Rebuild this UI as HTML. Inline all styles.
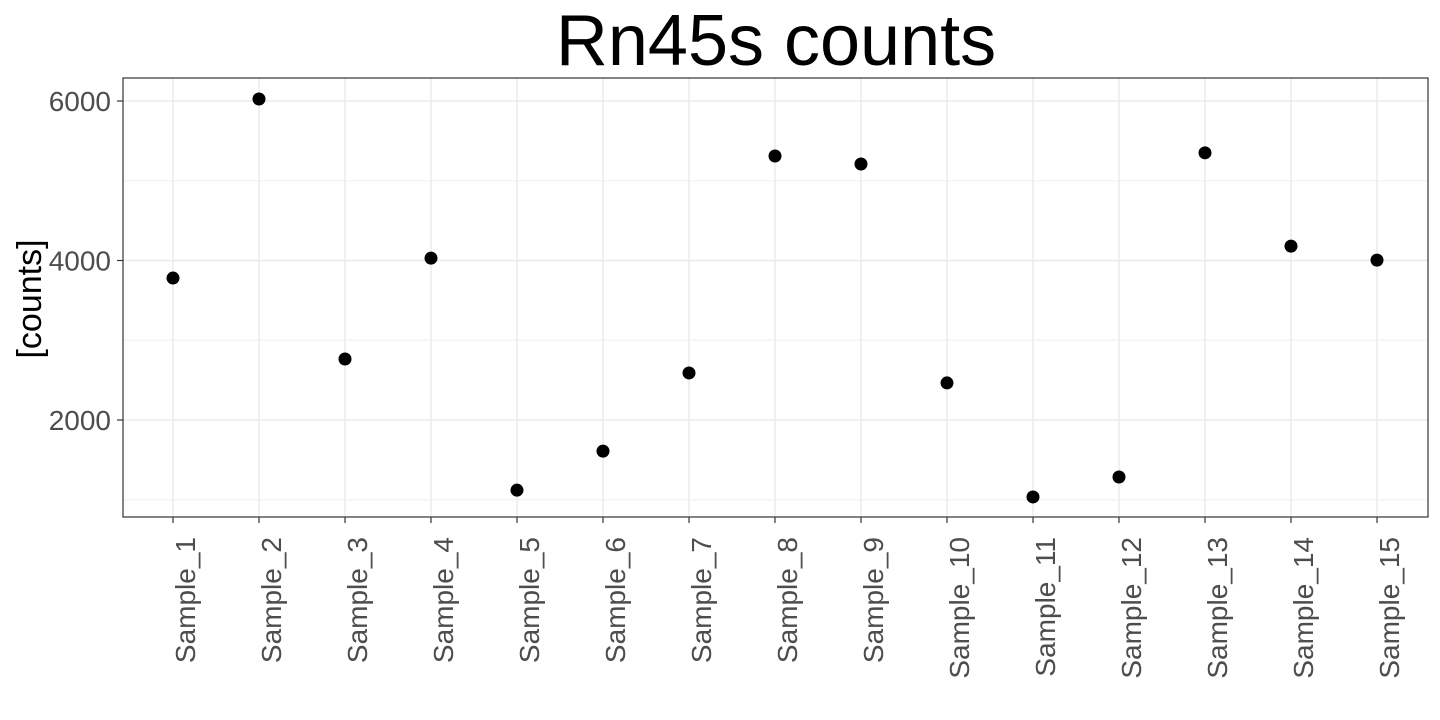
<!DOCTYPE html>
<html><head><meta charset="utf-8"><style>body{margin:0;background:#fff}svg{display:block;font-family:"Liberation Sans",Arial,sans-serif}</style></head>
<body>
<svg id="chart" width="1440" height="720">
<text x="776" y="65" font-size="72" text-anchor="middle" fill="#000">Rn45s counts</text>
<text transform="translate(41,299) rotate(-90)" font-size="34" text-anchor="middle" fill="#000">[counts]</text>
<g id="grid"></g><g id="pts"></g><g id="axes"></g>
</svg>
<script>
const categories=["Sample_1","Sample_2","Sample_3","Sample_4","Sample_5","Sample_6","Sample_7","Sample_8","Sample_9","Sample_10","Sample_11","Sample_12","Sample_13","Sample_14","Sample_15"];
const counts=[3780,6025,2765,4030,1120,1610,2590,5310,5210,2465,1035,1285,5350,4180,4005];
const yTicks=[2000,4000,6000];
const yMinor=[1000,3000,5000];
const NS="http://www.w3.org/2000/svg";
const L=123,R=1428,T=78,B=517;
const y=v=>579.5-v*0.07975;
const x=i=>173+i*86;
function mk(tag,attrs,parent,text){const e=document.createElementNS(NS,tag);for(const k in attrs)e.setAttribute(k,attrs[k]);if(text!==undefined)e.textContent=text;parent.appendChild(e);return e;}
const grid=document.getElementById('grid'),pts=document.getElementById('pts'),axes=document.getElementById('axes');
yMinor.forEach(v=>{const l=mk('line',{x1:L,x2:R,y1:y(v),y2:y(v),stroke:'#f0f0f0','stroke-width':1},grid);

});
yTicks.forEach(v=>{const l=mk('line',{x1:L,x2:R,y1:y(v),y2:y(v),stroke:'#ebebeb','stroke-width':1.5},grid);


const t=mk('line',{x1:L-6,x2:L,y1:y(v),y2:y(v),stroke:'#333','stroke-width':1.2},axes);


const tx=mk('text',{x:L-12,y:y(v)+10,'font-size':28,'text-anchor':'end',fill:'#4d4d4d'},axes,String(v));

});
categories.forEach((c,i)=>{const l=mk('line',{x1:x(i),x2:x(i),y1:T,y2:B,stroke:'#ebebeb','stroke-width':1.5},grid);


const t=mk('line',{x1:x(i),x2:x(i),y1:B,y2:B+6,stroke:'#333','stroke-width':1.2},axes);


const tx=mk('text',{transform:`translate(${x(i)+22},${B+20}) rotate(-90)`,'font-size':28,'text-anchor':'end',fill:'#4d4d4d'},axes,c);


const p=mk('circle',{cx:x(i),cy:y(counts[i]),r:6.5,fill:'#000'},pts);

});
const fr=mk('rect',{x:L,y:T,width:R-L,height:B-T,fill:'none',stroke:'#333','stroke-width':1.2},axes);


</script>
</body></html>
